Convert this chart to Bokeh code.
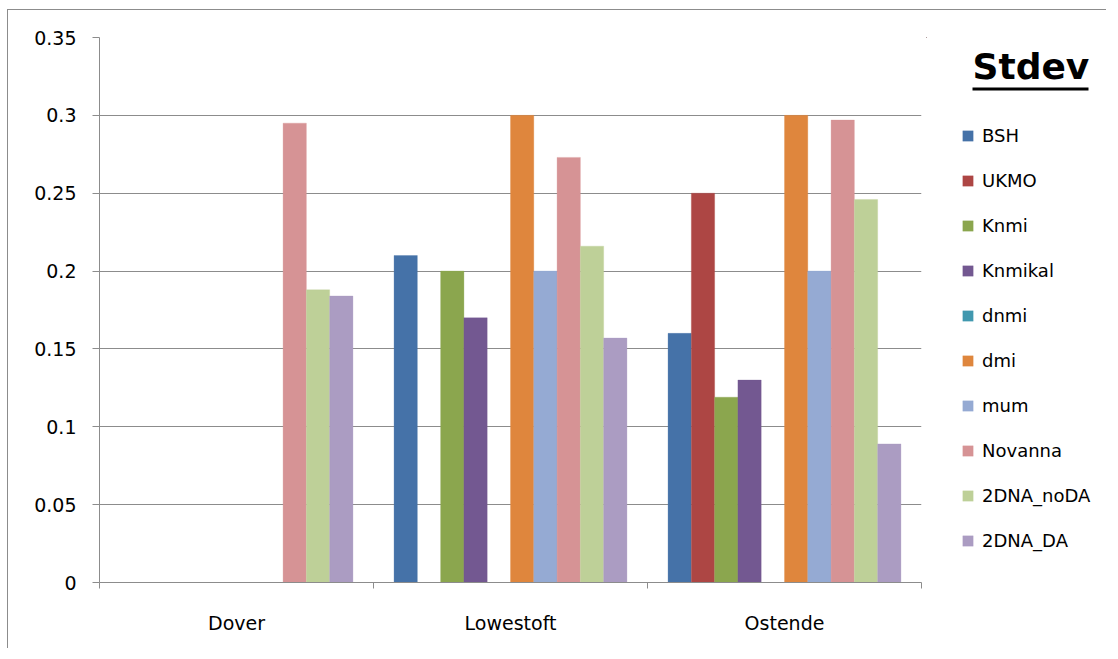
from bokeh.plotting import figure
from bokeh.layouts import row
from bokeh.models import (ColumnDataSource, Range1d, FixedTicker, CustomJSTickFormatter,
                          Legend, LegendItem, Label, BoxAnnotation)
from bokeh.embed import file_html
from bokeh.resources import INLINE

nan = float("nan")

categories = ["Dover", "Lowestoft", "Ostende"]
series_names = ["BSH", "UKMO", "Knmi", "Knmikal", "dnmi", "dmi", "mum",
                "Novanna", "2DNA_noDA", "2DNA_DA"]
BSH = [nan, 0.21, 0.16]
UKMO = [nan, nan, 0.25]
Knmi = [nan, 0.20, 0.119]
Knmikal = [nan, 0.17, 0.13]
dnmi = [nan, nan, nan]
dmi = [nan, 0.30, 0.30]
mum = [nan, 0.20, 0.20]
Novanna = [0.295, 0.273, 0.297]
DNA_noDA = [0.188, 0.216, 0.246]
DNA_DA = [0.184, 0.157, 0.089]
series_values = [BSH, UKMO, Knmi, Knmikal, dnmi, dmi, mum, Novanna, DNA_noDA, DNA_DA]
colors = ["#4572A8", "#AD4644", "#8BA64E", "#735891", "#4198AF", "#DF863D",
          "#95AAD3", "#D69395", "#BED098", "#AB9CC2"]
y_ticks = [0, 0.05, 0.10, 0.15, 0.20, 0.25, 0.30, 0.35]
legend_title = "Stdev"

FONT = "DejaVu Sans"
GRAY = "#8c8c8c"
H = 638

# ---------------- main chart ----------------
p = figure(frame_width=822, frame_height=545,
           x_range=Range1d(0, 3), y_range=Range1d(0, 0.35),
           output_backend="svg", toolbar_location=None,
           min_border_left=91, min_border_right=5,
           min_border_top=27, min_border_bottom=H - 27 - 545)
p.outline_line_color = None
p.background_fill_color = "white"
p.border_fill_color = "white"

bar_w = 0.085
n = len(series_names)
sources = []
for j, (name, vals, col) in enumerate(zip(series_names, series_values, colors)):
    xs = [i + 0.5 + (j - (n - 1) / 2) * bar_w for i in range(len(categories))]
    src = ColumnDataSource(dict(x=xs, top=vals))
    sources.append(src)
    p.vbar(x="x", top="top", bottom=0, width=bar_w, source=src,
           fill_color=col, line_color=col, line_alpha=0.6, line_width=0.5)

p.xgrid.visible = False
p.ygrid.ticker = FixedTicker(ticks=y_ticks)
p.ygrid.grid_line_color = GRAY
p.ygrid.grid_line_width = 1

ya = p.yaxis[0]
ya.ticker = FixedTicker(ticks=y_ticks, minor_ticks=[])
ya.formatter = CustomJSTickFormatter(code="return (Math.round(tick*100)/100).toString();")
ya.axis_line_color = GRAY
ya.major_tick_line_color = GRAY
ya.major_tick_in = 0
ya.major_tick_out = 7
ya.minor_tick_line_color = None
ya.major_label_standoff = 16
ya.major_label_text_font = FONT
ya.major_label_text_font_size = "19px"
ya.major_label_text_color = "#000000"

xa = p.xaxis[0]
xa.ticker = FixedTicker(ticks=[0.5, 1.5, 2.5], minor_ticks=[0, 1, 2, 3])
xa.formatter = CustomJSTickFormatter(args=dict(cats=categories),
                                     code="return cats[Math.floor(tick)];")
xa.axis_line_color = GRAY
xa.major_tick_line_color = None
xa.major_tick_in = 0
xa.major_tick_out = 0
xa.minor_tick_line_color = GRAY
xa.minor_tick_in = 0
xa.minor_tick_out = 6
xa.major_label_standoff = 23
xa.major_label_text_font = FONT
xa.major_label_text_font_size = "19px"
xa.major_label_text_color = "#000000"

# ---------------- legend panel (frame aligned with main frame, page-pixel ranges) ----
LW = 180
X0 = 926  # page x of this panel's left edge
p2 = figure(width=LW, height=H, x_range=Range1d(X0, X0 + LW), y_range=Range1d(582, 37),
            output_backend="svg", toolbar_location=None,
            min_border=0, min_border_left=0, min_border_right=0)
p2.axis.visible = False
p2.grid.visible = False
p2.outline_line_color = None
p2.background_fill_color = "white"
p2.border_fill_color = "white"

items = []
for name, col, src in zip(series_names, colors, sources):
    r = p2.vbar(x="x", top="top", bottom=0, width=bar_w, source=src,
                fill_color=col, line_color=col, line_alpha=0.6, line_width=0.5)
    items.append(LegendItem(label=name, renderers=[r]))

legend = Legend(items=items, location=(35, 31), padding=0, margin=0,
                border_line_color=None, background_fill_alpha=0,
                glyph_width=13, glyph_height=13, label_height=20, spacing=24,
                label_standoff=8, label_text_font=FONT, label_text_font_size="18px",
                label_text_color="#000000")
p2.add_layout(legend)

title = Label(x=972, y=66, text=legend_title, text_font=FONT, text_font_size="36px",
              text_font_style="bold", text_color="#000000", text_baseline="alphabetic")
p2.add_layout(title)
underline = BoxAnnotation(left=972, right=1088, top=87, bottom=90,
                          fill_color="#000000", fill_alpha=1, line_color=None)
p2.add_layout(underline)

lay = row(p, p2, spacing=0)
lay.styles = {"margin-left": "7px", "margin-top": "9px",
              "border-left": "1px solid #8c8c8c", "border-top": "1px solid #8c8c8c"}

open("out.html", "w").write(file_html(lay, INLINE))
